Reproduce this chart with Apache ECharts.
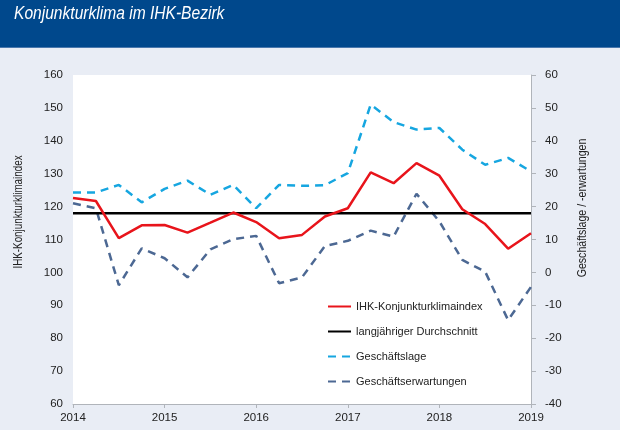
<!DOCTYPE html>
<html>
<head>
<meta charset="utf-8">
<script src="https://cdn.jsdelivr.net/npm/echarts@6/dist/echarts.min.js"></script>
<style>
html,body{margin:0;padding:0;background:#e9edf5;}
#c{width:620px;height:430px;}
</style>
</head>
<body>
<div id="c"></div>
<script>
// Quarterly periods 2014.0 .. 2019.0
const quarters = [2014, 2014.25, 2014.5, 2014.75, 2015, 2015.25, 2015.5, 2015.75, 2016, 2016.25, 2016.5, 2016.75, 2017, 2017.25, 2017.5, 2017.75, 2018, 2018.25, 2018.5, 2018.75, 2019];
const klimaindex = [122.6, 121.7, 110.4, 114.3, 114.4, 112.1, 115.1, 118.2, 115.3, 110.4, 111.4, 117.0, 119.5, 130.4, 127.1, 133.2, 129.4, 119.2, 114.7, 107.2, 111.9];
const durchschnitt = 118;
const geschaeftslage = [24.3, 24.3, 26.6, 21.3, 25.4, 27.9, 23.6, 26.6, 19.5, 26.6, 26.3, 26.5, 30.2, 51.0, 45.7, 43.4, 43.9, 37.3, 32.7, 34.8, 30.7];
const erwartungen = [21.0, 19.5, -3.9, 7.3, 4.3, -1.5, 7.0, 10.1, 11.1, -3.3, -1.5, 8.0, 9.6, 12.7, 10.9, 23.9, 15.5, 3.8, 0.2, -14.5, -4.4];
const names = ['IHK-Konjunkturklimaindex', 'langjähriger Durchschnitt', 'Geschäftslage', 'Geschäftserwartungen'];
const title = 'Konjunkturklima im IHK-Bezirk';
const leftAxisName = 'IHK-Konjunkturklimaindex';
const rightAxisName = 'Geschäftslage / -erwartungen';

const pair = arr => quarters.map((q, i) => [q, arr[i]]);
const reg = "'Liberation Sans', Arial, sans-serif";

const chart = echarts.init(document.getElementById('c'), null, {renderer: 'canvas'});
chart.setOption({
  backgroundColor: '#e9edf5',
  animation: false,
  graphic: [
    {type: 'rect', left: 0, top: 0, shape: {width: 620, height: 47}, style: {fill: '#00488c'}, z: 0},
    {type: 'rect', left: 0, top: 47, shape: {width: 620, height: 1}, style: {fill: '#4a78ad'}, z: 0},
    {type: 'text', x: 14, y: 14, scaleX: 0.82, style: {text: title, fill: '#ffffff', font: "italic 19px " + reg, verticalAlign: 'middle'}, z: 5},
    {type: 'text', x: 19, y: 212, rotation: Math.PI / 2, scaleX: 0.82, style: {text: leftAxisName, fill: '#222', font: "12px " + reg, align: 'center', verticalAlign: 'middle'}},
    {type: 'text', x: 583, y: 208, rotation: Math.PI / 2, scaleX: 0.88, style: {text: rightAxisName, fill: '#222', font: "12px " + reg, align: 'center', verticalAlign: 'middle'}}
  ],
  grid: {left: 73, right: 89, top: 75, bottom: 26, show: true, backgroundColor: '#ffffff', borderWidth: 0},
  legend: {
    orient: 'vertical', left: 322, top: 296, itemWidth: 23, itemHeight: 12, itemGap: 14,
    itemStyle: {opacity: 0},
    textStyle: {fontFamily: reg, fontSize: 11, color: '#222'},
    data: names
  },
  xAxis: {
    type: 'value', min: 2014, max: 2019, interval: 1,
    axisLine: {show: true, onZero: false, lineStyle: {color: '#b0b4ba', width: 1}},
    axisTick: {show: true, length: 4, lineStyle: {color: '#b0b4ba'}},
    axisLabel: {margin: 8, fontFamily: reg, fontSize: 11.5, color: '#222', formatter: v => String(v)},
    splitLine: {show: false}
  },
  yAxis: [
    {
      type: 'value', min: 60, max: 160, interval: 10, position: 'left',
      axisLine: {show: false}, axisTick: {show: false}, splitLine: {show: false},
      axisLabel: {margin: 10, fontFamily: reg, fontSize: 11.5, color: '#222'}
    },
    {
      type: 'value', min: -40, max: 60, interval: 10, position: 'right',
      axisLine: {show: true, lineStyle: {color: '#b0b4ba', width: 1}},
      axisTick: {show: true, length: 5, lineStyle: {color: '#b0b4ba'}},
      splitLine: {show: false},
      axisLabel: {margin: 14, fontFamily: reg, fontSize: 11.5, color: '#222'}
    }
  ],
  series: [
    {name: names[0], type: 'line', yAxisIndex: 0, data: pair(klimaindex), symbol: 'none', z: 4,
     lineStyle: {color: '#e8141b', width: 2.5}, itemStyle: {color: '#e8141b'}},
    {name: names[1], type: 'line', yAxisIndex: 0, data: [[quarters[0], durchschnitt], [quarters[quarters.length - 1], durchschnitt]], symbol: 'none', z: 3,
     lineStyle: {color: '#000000', width: 2.5}, itemStyle: {color: '#000000'}},
    {name: names[2], type: 'line', yAxisIndex: 1, data: pair(geschaeftslage), symbol: 'none', z: 2,
     lineStyle: {color: '#16a6e0', width: 2.5, type: [8, 6]}, itemStyle: {color: '#16a6e0'}},
    {name: names[3], type: 'line', yAxisIndex: 1, data: pair(erwartungen), symbol: 'none', z: 2,
     lineStyle: {color: '#4c6893', width: 2.5, type: [8, 6]}, itemStyle: {color: '#4c6893'}}
  ]
});
</script>
</body>
</html>
